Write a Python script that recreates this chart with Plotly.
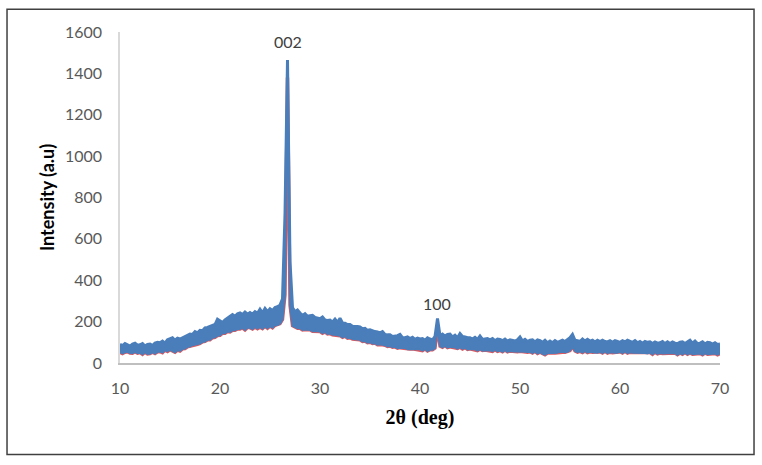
import plotly.graph_objects as go

# XRD pattern: upper and lower edges of the noisy band,
# sampled every 0.25 deg from 10 to 70 deg (2-theta)
start_deg = 10.0
step_deg = 0.25

upper = [
    90, 84, 94, 86,      # 10
    82, 92, 96, 86,      # 11
    88, 94, 82, 90,      # 12
    92, 84, 96, 100,     # 13
    98, 106, 96, 112,    # 14
    116, 122, 110, 120,  # 15
    116, 124, 128, 134,  # 16
    140, 138, 152, 146,  # 17
    158, 156, 170, 172,  # 18
    178, 184, 186, 212,  # 19
    204, 196, 208, 216,  # 20
    226, 234, 226, 238,  # 21
    242, 234, 246, 236,  # 22
    244, 236, 248, 240,  # 23
    260, 242, 264, 248,  # 24
    262, 254, 268, 272,  # 25
    280, 310, 720, 1465, # 26
    490, 268, 248, 256,  # 27
    242, 230, 238, 226,  # 28
    228, 230, 220, 218,  # 29
    214, 222, 208, 206,  # 30
    208, 198, 212, 196,  # 31
    216, 194, 192, 186,  # 32
    186, 178, 178, 176,  # 33
    174, 166, 168, 158,  # 34
    160, 154, 152, 150,  # 35
    146, 152, 138, 136,  # 36
    136, 128, 130, 132,  # 37
    138, 122, 122, 126,  # 38
    118, 124, 114, 120,  # 39
    116, 118, 110, 122,  # 40
    116, 112, 128, 215,  # 41
    132, 140, 130, 138,  # 42
    140, 126, 134, 122,  # 43
    142, 128, 126, 122,  # 44
    122, 116, 124, 114,  # 45
    130, 114, 116, 118,  # 46
    112, 118, 108, 116,  # 47
    114, 108, 116, 106,  # 48
    112, 110, 106, 112,  # 49
    126, 106, 114, 104,  # 50
    110, 112, 102, 112,  # 51
    108, 100, 110, 98,   # 52
    106, 98, 108, 100,   # 53
    104, 110, 104, 112,  # 54
    122, 138, 110, 108,  # 55
    104, 116, 106, 114,  # 56
    106, 110, 102, 110,  # 57
    104, 110, 104, 102,  # 58
    108, 100, 108, 104,  # 59
    100, 108, 102, 110,  # 60
    104, 100, 108, 98,   # 61
    104, 96, 104, 100,   # 62
    102, 94, 102, 96,    # 63
    98, 104, 94, 102,    # 64
    94, 102, 96, 94,     # 65
    100, 102, 94, 100,   # 66
    110, 96, 106, 94,    # 67
    96, 102, 92, 100,    # 68
    98, 92, 98, 90,      # 69
    92,                  # 70
]

lower = [
    52, 46, 52, 54,      # 10
    48, 47, 54, 47,      # 11
    50, 42, 52, 44,      # 12
    45, 52, 46, 54,      # 13
    55, 50, 62, 56,      # 14
    64, 56, 52, 62,      # 15
    58, 68, 70, 78,      # 16
    80, 86, 88, 90,      # 17
    94, 102, 104, 112,   # 18
    112, 122, 124, 132,  # 19
    134, 144, 144, 152,  # 20
    150, 158, 158, 164,  # 21
    164, 170, 160, 172,  # 22
    170, 164, 174, 166,  # 23
    174, 166, 178, 168,  # 24
    178, 170, 182, 184,  # 25
    190, 210, 330, 1380, # 26
    280, 180, 174, 168,  # 27
    168, 160, 162, 162,  # 28
    160, 153, 154, 154,  # 29
    152, 144, 150, 140,  # 30
    142, 136, 136, 134,  # 31
    132, 124, 130, 120,  # 32
    122, 116, 116, 114,  # 33
    112, 104, 106, 98,   # 34
    100, 94, 96, 88,     # 35
    90, 88, 86, 80,      # 36
    82, 76, 78, 72,      # 37
    74, 72, 72, 66,      # 38
    68, 68, 66, 66,      # 39
    66, 60, 68, 58,      # 40
    64, 64, 72, 170,     # 41
    82, 76, 84, 74,      # 42
    78, 76, 76, 70,      # 43
    76, 68, 74, 66,      # 44
    68, 66, 66, 60,      # 45
    66, 60, 62, 60,      # 46
    62, 56, 64, 56,      # 47
    60, 54, 62, 54,      # 48
    58, 56, 56, 54,      # 49
    56, 54, 54, 52,      # 50
    54, 48, 56, 46,      # 51
    52, 44, 40, 48,      # 52
    50, 48, 48, 50,      # 53
    54, 52, 52, 54,      # 54
    60, 80, 58, 52,      # 55
    56, 50, 58, 50,      # 56
    54, 52, 52, 50,      # 57
    54, 48, 56, 48,      # 58
    52, 50, 50, 50,      # 59
    54, 48, 56, 48,      # 60
    52, 50, 50, 48,      # 61
    50, 48, 48, 46,      # 62
    50, 42, 52, 44,      # 63
    48, 46, 46, 46,      # 64
    46, 46, 48, 40,      # 65
    48, 42, 50, 42,      # 66
    48, 42, 44, 44,      # 67
    46, 40, 48, 42,      # 68
    44, 44, 46, 40,      # 69
    46,                  # 70
]

two_theta = [start_deg + step_deg * i for i in range(len(upper))]

peak_labels = ["002", "100"]
peak_pos = [26.75, 41.7]
peak_label_y = [1555, 286]

x_ticks = [10, 20, 30, 40, 50, 60, 70]
y_ticks = [0, 200, 400, 600, 800, 1000, 1200, 1400, 1600]

BLUE = "#4A7EBB"
RED = "#E0575C"

fig = go.Figure()
# thin red rim under the lower edge
fig.add_trace(go.Scatter(
    x=two_theta, y=lower, mode="lines",
    line=dict(color=RED, width=3.4), hoverinfo="skip", showlegend=False,
))
fig.add_trace(go.Scatter(
    x=two_theta, y=lower, mode="lines",
    line=dict(color=BLUE, width=2), hoverinfo="skip", showlegend=False,
))
fig.add_trace(go.Scatter(
    x=two_theta, y=upper, mode="lines", fill="tonexty", fillcolor=BLUE,
    line=dict(color=BLUE, width=3), hoverinfo="skip", showlegend=False,
))

for lab, px, py in zip(peak_labels, peak_pos, peak_label_y):
    fig.add_annotation(x=px, y=py, text=lab, showarrow=False,
                       font=dict(family="Lato", size=16, color="#404040"))

# outer frame of the picture
fig.add_shape(type="rect", xref="paper", yref="paper",
              x0=-0.1883, x1=1.0567, y0=-0.2765, y1=1.0685,
              line=dict(color="#404040", width=1.5), fillcolor="rgba(0,0,0,0)")

fig.update_layout(
    width=762, height=465,
    margin=dict(l=120, r=42, t=32, b=102),
    paper_bgcolor="white", plot_bgcolor="white",
    font=dict(family="Lato", size=16, color="#595959"),
    xaxis=dict(
        range=[10, 70], tickvals=x_ticks, showgrid=False, zeroline=False,
        showline=True, linecolor="#BFBFBF", linewidth=1.5,
        ticks="", ticklabelstandoff=10,
        tickfont=dict(family="Lato", size=16, color="#595959"),
        title=dict(text="<b>2θ (deg)</b>", standoff=14,
                   font=dict(family="Liberation Serif", size=20, color="black")),
    ),
    yaxis=dict(
        range=[0, 1600], tickvals=y_ticks, showgrid=False, zeroline=False,
        showline=True, linecolor="#D9D9D9", linewidth=1.5,
        ticks="", ticklabelstandoff=13,
        tickfont=dict(family="Lato", size=16, color="#595959"),
        title=dict(text="<b>Intensity (a.u)</b>", standoff=6,
                   font=dict(family="Lato", size=18, color="black")),
    ),
)

fig.write_html("out.html")
